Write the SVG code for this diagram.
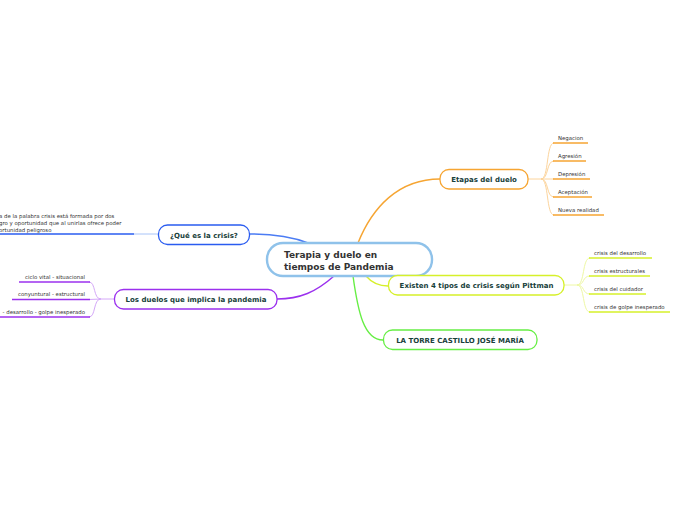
<svg xmlns="http://www.w3.org/2000/svg" width="697" height="520" viewBox="0 0 697 520">
<style>
.bg{fill:#ffffff}
.node{fill:#ffffff;stroke-width:1.3}
.nt{font-family:"DejaVu Sans",Verdana,sans-serif;font-weight:bold;font-size:7px;fill:#17403a;text-anchor:middle}
.ct{font-family:"DejaVu Sans",Verdana,sans-serif;font-weight:bold;font-size:9px;fill:#333333}
.st{font-family:"DejaVu Sans",Verdana,sans-serif;font-size:5.4px;fill:#333333}
.conn{fill:none;stroke-width:1.4}
.br{fill:none;stroke-width:1}
.ul{fill:none;stroke-width:1.6}
.or{stroke:#f6a532}.orl{stroke:#fcd49c}
.bl{stroke:#2a5cf0}.bll{stroke:#a8c4f8}
.pu{stroke:#9b30ee}.pul{stroke:#d4a8f8}
.ye{stroke:#d6f02a}.yel{stroke:#eef8a4}
.gr{stroke:#66ee44}
</style>
<rect class="bg" x="0" y="0" width="697" height="520"/>
<g id="connectors">
<path class="conn or" d="M358,243 C372,208 398,179 440,179"/>
<path class="conn bl" style="stroke:#4b7cf4" d="M308,243 C290,236 272,234 250,234"/>
<path class="conn pu" d="M334,276 C316,292 300,299 277,299"/>
<path class="conn gr" d="M353,276 C358,312 364,340 383,340"/>
<path class="conn ye" d="M366,276 C372,283 378,286 388,286"/>
<!-- Etapas branches -->
<path class="br orl" d="M528,179 L541,179"/>
<path class="br orl" d="M541,179 C549,179 546,143 554,143"/>
<path class="br orl" d="M541,179 C549,179 546,161 554,161"/>
<path class="br orl" d="M541,179 L554,179"/>
<path class="br orl" d="M541,179 C549,179 546,197 554,197"/>
<path class="br orl" d="M541,179 C549,179 546,215 554,215"/>
<!-- Existen branches -->
<path class="br yel" d="M564,285 L577,285"/>
<path class="br yel" d="M577,285 C585,285 582,258 590,258"/>
<path class="br yel" d="M577,285 C585,285 582,276 590,276"/>
<path class="br yel" d="M577,285 C585,285 582,294 590,294"/>
<path class="br yel" d="M577,285 C585,285 582,312 590,312"/>
<!-- Los duelos branches -->
<path class="br pul" d="M114,299 L101,299"/>
<path class="br pul" d="M101,299 C93,299 96,282 89,282"/>
<path class="br pul" d="M101,299 L89,299.5"/>
<path class="br pul" d="M101,299 C93,299 96,317 89,317"/>
<!-- Que es branch -->
<path class="br bll" d="M158,234 L134,234"/>
</g>
<g id="n-central">
<rect x="267" y="243" width="165" height="33" rx="16" fill="#ffffff" stroke="#8fc2ea" stroke-width="2.4"/>
<text class="ct" x="284" y="258">Terapia y duelo en</text>
<text class="ct" x="284" y="269.5">tiempos de Pandemia</text>
</g>
<g id="n-etapas">
<rect class="node or" x="440" y="169.5" width="88" height="19.5" rx="9"/>
<text class="nt" x="484" y="182">Etapas del duelo</text>
</g>
<g id="n-etapas-children">
<g id="c-negacion"><path class="ul or" d="M553,143 H588"/><text class="st" x="558" y="139.5">Negacion</text></g>
<g id="c-agresion"><path class="ul or" d="M553,161 H586"/><text class="st" x="558" y="157.5">Agresión</text></g>
<g id="c-depresion"><path class="ul or" d="M553,179 H590"/><text class="st" x="558" y="175.5">Depresión</text></g>
<g id="c-aceptacion"><path class="ul or" d="M553,197 H592"/><text class="st" x="558" y="193.5">Aceptación</text></g>
<g id="c-nueva"><path class="ul or" d="M553,215 H604"/><text class="st" x="558" y="211.5">Nueva realidad</text></g>
</g>
<g id="n-que">
<rect class="node bl" x="158.5" y="225" width="91" height="19.5" rx="9"/>
<text class="nt" x="204" y="237.5">¿Qué es la crisis?</text>
</g>
<g id="c-que-text">
<path class="ul bl" d="M0,234 H134"/>
<text class="st" x="-1" y="218">a de la palabra crisis está formada por dos</text>
<text class="st" x="-1" y="224.8">gro y oportunidad que al unirlas ofrece poder</text>
<text class="st" x="-1" y="231.5">ortunidad peligroso</text>
</g>
<g id="n-duelos">
<rect class="node pu" x="114.5" y="289.5" width="162.5" height="19.5" rx="9"/>
<text class="nt" x="196" y="302">Los duelos que implica la pandemia</text>
</g>
<g id="n-duelos-children">
<g id="c-ciclo"><path class="ul pu" d="M19,282 H90"/><text class="st" x="85" y="278.5" text-anchor="end">ciclo vital - situacional</text></g>
<g id="c-conyuntural"><path class="ul pu" d="M12,299.5 H90"/><text class="st" x="85" y="296" text-anchor="end">conyuntural - estructural</text></g>
<g id="c-desarrollo"><path class="ul pu" d="M0,317 H90"/><text class="st" x="85" y="313.5" text-anchor="end">- desarrollo - golpe inesperado</text></g>
</g>
<g id="n-existen">
<rect class="node ye" x="388.5" y="275.5" width="175.5" height="19.5" rx="9"/>
<text class="nt" x="476.5" y="288">Existen 4 tipos de crisis según Pittman</text>
</g>
<g id="n-existen-children">
<g id="c-desarrollo2"><path class="ul ye" d="M589,258 H652"/><text class="st" x="594" y="254.5">crisis del desarrollo</text></g>
<g id="c-estructurales"><path class="ul ye" d="M589,276 H650"/><text class="st" x="594" y="272.5">crisis estructurales</text></g>
<g id="c-cuidador"><path class="ul ye" d="M589,294 H646"/><text class="st" x="594" y="290.5">crisis del cuidador</text></g>
<g id="c-golpe"><path class="ul ye" d="M589,312 H670"/><text class="st" x="594" y="308.5">crisis de golpe inesperado</text></g>
</g>
<g id="n-latorre">
<rect class="node gr" x="383.5" y="330" width="153.5" height="19.5" rx="9"/>
<text class="nt" x="460" y="342.5">LA TORRE CASTILLO JOSÉ MARÍA</text>
</g>
</svg>
